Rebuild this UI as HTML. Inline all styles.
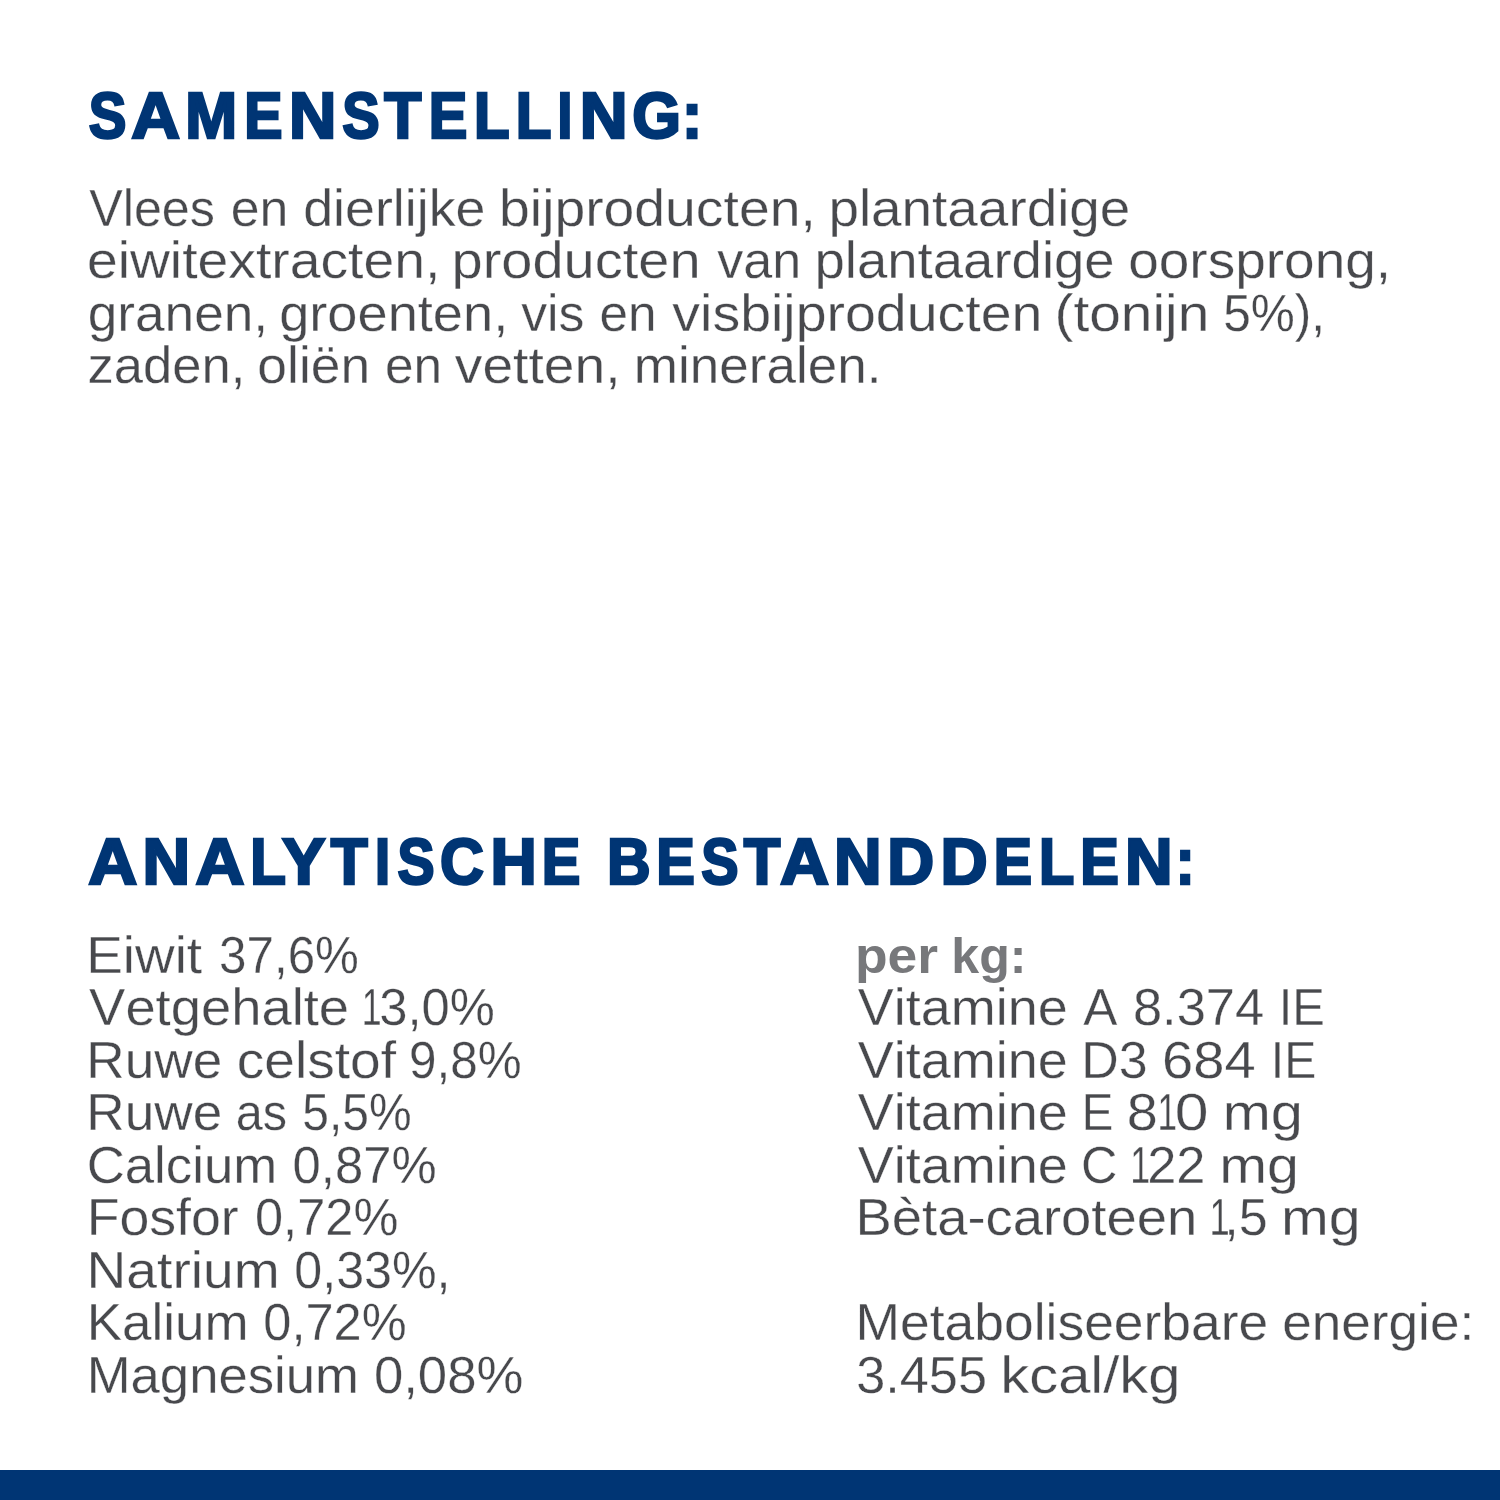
<!DOCTYPE html>
<html lang="nl"><head><meta charset="utf-8"><title>Samenstelling en analytische bestanddelen</title>
<style>
html,body{margin:0;padding:0;background:#fff;}
body{width:1500px;height:1500px;overflow:hidden;position:relative;}
svg{position:absolute;left:0;top:0;display:block;}
text{font-family:"Liberation Sans",sans-serif;white-space:pre;font-kerning:none;}
.h{font-size:64.1px;font-weight:bold;fill:#003574;stroke:#003574;stroke-width:2.6px;}
.t{font-size:51.5px;fill:#48494d;stroke:#fff;stroke-width:0.3px;}
.b{font-size:50.5px;font-weight:bold;fill:#77787b;}
.bar{position:absolute;left:0;top:1470px;width:1500px;height:30px;background:#003574;}
</style></head><body>
<svg width="1500" height="1500" viewBox="0 0 1500 1500">
<text class="h" y="138.00" aria-label="SAMENSTELLING:"><tspan x="88.86" textLength="37.68" lengthAdjust="spacingAndGlyphs">S</tspan><tspan x="131.21" textLength="48.80" lengthAdjust="spacingAndGlyphs">A</tspan><tspan x="185.27" textLength="51.89" lengthAdjust="spacingAndGlyphs">M</tspan><tspan x="244.18" textLength="38.27" lengthAdjust="spacingAndGlyphs">E</tspan><tspan x="288.93" textLength="47.36" lengthAdjust="spacingAndGlyphs">N</tspan><tspan x="342.26" textLength="37.38" lengthAdjust="spacingAndGlyphs">S</tspan><tspan x="384.33" textLength="37.12" lengthAdjust="spacingAndGlyphs">T</tspan><tspan x="428.66" textLength="38.60" lengthAdjust="spacingAndGlyphs">E</tspan><tspan x="473.94" textLength="35.57" lengthAdjust="spacingAndGlyphs">L</tspan><tspan x="515.73" textLength="35.68" lengthAdjust="spacingAndGlyphs">L</tspan><tspan x="557.45" textLength="14.82" lengthAdjust="spacingAndGlyphs">I</tspan><tspan x="579.70" textLength="47.82" lengthAdjust="spacingAndGlyphs">N</tspan><tspan x="632.31" textLength="48.72" lengthAdjust="spacingAndGlyphs">G</tspan><tspan x="682.06" textLength="20.13" lengthAdjust="spacingAndGlyphs">:</tspan></text>
<text class="t" y="225.80"><tspan x="89.15" textLength="125.87" lengthAdjust="spacingAndGlyphs">Vlees</tspan> <tspan x="230.73" textLength="57.63" lengthAdjust="spacingAndGlyphs">en</tspan> <tspan x="303.16" textLength="182.37" lengthAdjust="spacingAndGlyphs">dierlijke</tspan> <tspan x="499.08" textLength="316.71" lengthAdjust="spacingAndGlyphs">bijproducten,</tspan> <tspan x="828.41" textLength="301.97" lengthAdjust="spacingAndGlyphs">plantaardige</tspan></text>
<text class="t" y="278.20"><tspan x="86.91" textLength="353.38" lengthAdjust="spacingAndGlyphs">eiwitextracten,</tspan> <tspan x="451.54" textLength="249.07" lengthAdjust="spacingAndGlyphs">producten</tspan> <tspan x="717.15" textLength="84.03" lengthAdjust="spacingAndGlyphs">van</tspan> <tspan x="814.53" textLength="300.14" lengthAdjust="spacingAndGlyphs">plantaardige</tspan> <tspan x="1128.22" textLength="262.85" lengthAdjust="spacingAndGlyphs">oorsprong,</tspan></text>
<text class="t" y="330.60"><tspan x="87.68" textLength="180.45" lengthAdjust="spacingAndGlyphs">granen,</tspan> <tspan x="279.15" textLength="229.06" lengthAdjust="spacingAndGlyphs">groenten,</tspan> <tspan x="521.15" textLength="63.32" lengthAdjust="spacingAndGlyphs">vis</tspan> <tspan x="599.55" textLength="57.08" lengthAdjust="spacingAndGlyphs">en</tspan> <tspan x="672.34" textLength="370.14" lengthAdjust="spacingAndGlyphs">visbijproducten</tspan> <tspan x="1054.47" textLength="154.79" lengthAdjust="spacingAndGlyphs">(tonijn</tspan> <tspan x="1223.31" textLength="101.84" lengthAdjust="spacingAndGlyphs">5%),</tspan></text>
<text class="t" y="383.00"><tspan x="87.50" textLength="157.88" lengthAdjust="spacingAndGlyphs">zaden,</tspan> <tspan x="257.38" textLength="112.78" lengthAdjust="spacingAndGlyphs">oliën</tspan> <tspan x="384.95" textLength="57.08" lengthAdjust="spacingAndGlyphs">en</tspan> <tspan x="454.84" textLength="165.64" lengthAdjust="spacingAndGlyphs">vetten,</tspan> <tspan x="633.83" textLength="247.61" lengthAdjust="spacingAndGlyphs">mineralen.</tspan></text>
<text class="h" y="884.30" aria-label="ANALYTISCHE BESTANDDELEN:"><tspan x="88.22" textLength="49.00" lengthAdjust="spacingAndGlyphs">A</tspan><tspan x="142.42" textLength="47.59" lengthAdjust="spacingAndGlyphs">N</tspan><tspan x="195.62" textLength="49.00" lengthAdjust="spacingAndGlyphs">A</tspan><tspan x="250.33" textLength="35.68" lengthAdjust="spacingAndGlyphs">L</tspan><tspan x="282.00" textLength="43.47" lengthAdjust="spacingAndGlyphs">Y</tspan><tspan x="330.83" textLength="36.94" lengthAdjust="spacingAndGlyphs">T</tspan><tspan x="375.10" textLength="15.10" lengthAdjust="spacingAndGlyphs">I</tspan><tspan x="397.56" textLength="37.08" lengthAdjust="spacingAndGlyphs">S</tspan><tspan x="440.03" textLength="43.89" lengthAdjust="spacingAndGlyphs">C</tspan><tspan x="490.50" textLength="46.22" lengthAdjust="spacingAndGlyphs">H</tspan><tspan x="541.76" textLength="38.60" lengthAdjust="spacingAndGlyphs">E</tspan> <tspan x="606.95" textLength="43.62" lengthAdjust="spacingAndGlyphs">B</tspan><tspan x="656.16" textLength="38.60" lengthAdjust="spacingAndGlyphs">E</tspan><tspan x="701.16" textLength="37.28" lengthAdjust="spacingAndGlyphs">S</tspan><tspan x="743.81" textLength="36.56" lengthAdjust="spacingAndGlyphs">T</tspan><tspan x="780.02" textLength="49.00" lengthAdjust="spacingAndGlyphs">A</tspan><tspan x="834.12" textLength="47.59" lengthAdjust="spacingAndGlyphs">N</tspan><tspan x="887.26" textLength="46.87" lengthAdjust="spacingAndGlyphs">D</tspan><tspan x="940.55" textLength="47.09" lengthAdjust="spacingAndGlyphs">D</tspan><tspan x="993.78" textLength="38.27" lengthAdjust="spacingAndGlyphs">E</tspan><tspan x="1039.06" textLength="35.25" lengthAdjust="spacingAndGlyphs">L</tspan><tspan x="1080.26" textLength="38.60" lengthAdjust="spacingAndGlyphs">E</tspan><tspan x="1125.12" textLength="47.59" lengthAdjust="spacingAndGlyphs">N</tspan><tspan x="1175.76" textLength="18.78" lengthAdjust="spacingAndGlyphs">:</tspan></text>
<text class="t" y="973.00"><tspan x="86.25" textLength="115.82" lengthAdjust="spacingAndGlyphs">Eiwit</tspan> <tspan x="219.12" textLength="139.80" lengthAdjust="spacingAndGlyphs">37,6%</tspan></text>
<text class="t" y="1025.45"><tspan x="89.14" textLength="259.92" lengthAdjust="spacingAndGlyphs">Vetgehalte</tspan> <tspan x="361.66" textLength="19.89" lengthAdjust="spacingAndGlyphs">1</tspan><tspan x="379.27" textLength="115.59" lengthAdjust="spacingAndGlyphs">3,0%</tspan></text>
<text class="t" y="1077.90"><tspan x="86.39" textLength="135.92" lengthAdjust="spacingAndGlyphs">Ruwe</tspan> <tspan x="236.82" textLength="159.15" lengthAdjust="spacingAndGlyphs">celstof</tspan> <tspan x="409.04" textLength="112.57" lengthAdjust="spacingAndGlyphs">9,8%</tspan></text>
<text class="t" y="1130.35"><tspan x="86.39" textLength="135.92" lengthAdjust="spacingAndGlyphs">Ruwe</tspan> <tspan x="235.64" textLength="51.32" lengthAdjust="spacingAndGlyphs">as</tspan> <tspan x="302.36" textLength="109.31" lengthAdjust="spacingAndGlyphs">5,5%</tspan></text>
<text class="t" y="1182.80"><tspan x="86.67" textLength="190.51" lengthAdjust="spacingAndGlyphs">Calcium</tspan> <tspan x="292.56" textLength="144.10" lengthAdjust="spacingAndGlyphs">0,87%</tspan></text>
<text class="t" y="1235.25"><tspan x="86.65" textLength="152.07" lengthAdjust="spacingAndGlyphs">Fosfor</tspan> <tspan x="254.97" textLength="143.38" lengthAdjust="spacingAndGlyphs">0,72%</tspan></text>
<text class="t" y="1287.70"><tspan x="86.53" textLength="193.19" lengthAdjust="spacingAndGlyphs">Natrium</tspan> <tspan x="294.28" textLength="156.31" lengthAdjust="spacingAndGlyphs">0,33%,</tspan></text>
<text class="t" y="1340.15"><tspan x="86.71" textLength="161.89" lengthAdjust="spacingAndGlyphs">Kalium</tspan> <tspan x="263.27" textLength="143.38" lengthAdjust="spacingAndGlyphs">0,72%</tspan></text>
<text class="t" y="1392.60"><tspan x="86.73" textLength="272.15" lengthAdjust="spacingAndGlyphs">Magnesium</tspan> <tspan x="373.90" textLength="149.53" lengthAdjust="spacingAndGlyphs">0,08%</tspan></text>
<text class="b" y="972.70"><tspan x="854.96" textLength="83.09" lengthAdjust="spacingAndGlyphs">per</tspan> <tspan x="951.27" textLength="75.19" lengthAdjust="spacingAndGlyphs">kg:</tspan></text>
<text class="t" y="1025.45"><tspan x="857.84" textLength="210.00" lengthAdjust="spacingAndGlyphs">Vitamine</tspan> <tspan x="1083.15" textLength="34.15" lengthAdjust="spacingAndGlyphs">A</tspan> <tspan x="1132.91" textLength="131.25" lengthAdjust="spacingAndGlyphs">8.374</tspan> <tspan x="1278.74" textLength="46.15" lengthAdjust="spacingAndGlyphs">IE</tspan></text>
<text class="t" y="1077.90"><tspan x="857.84" textLength="210.00" lengthAdjust="spacingAndGlyphs">Vitamine</tspan> <tspan x="1081.29" textLength="66.36" lengthAdjust="spacingAndGlyphs">D3</tspan> <tspan x="1162.01" textLength="93.66" lengthAdjust="spacingAndGlyphs">684</tspan> <tspan x="1270.80" textLength="45.46" lengthAdjust="spacingAndGlyphs">IE</tspan></text>
<text class="t" y="1130.35"><tspan x="857.84" textLength="210.00" lengthAdjust="spacingAndGlyphs">Vitamine</tspan> <tspan x="1081.77" textLength="31.56" lengthAdjust="spacingAndGlyphs">E</tspan> <tspan x="1126.89" textLength="31.03" lengthAdjust="spacingAndGlyphs">8</tspan><tspan x="1157.50" textLength="19.52" lengthAdjust="spacingAndGlyphs">1</tspan><tspan x="1174.73" textLength="33.76" lengthAdjust="spacingAndGlyphs">0</tspan> <tspan x="1222.72" textLength="80.19" lengthAdjust="spacingAndGlyphs">mg</tspan></text>
<text class="t" y="1182.80"><tspan x="857.84" textLength="210.00" lengthAdjust="spacingAndGlyphs">Vitamine</tspan> <tspan x="1080.99" textLength="36.40" lengthAdjust="spacingAndGlyphs">C</tspan> <tspan x="1130.16" textLength="19.89" lengthAdjust="spacingAndGlyphs">1</tspan><tspan x="1147.19" textLength="58.29" lengthAdjust="spacingAndGlyphs">22</tspan> <tspan x="1219.25" textLength="79.64" lengthAdjust="spacingAndGlyphs">mg</tspan></text>
<text class="t" y="1235.25"><tspan x="855.49" textLength="341.72" lengthAdjust="spacingAndGlyphs">Bèta-caroteen</tspan> <tspan x="1209.62" textLength="20.27" lengthAdjust="spacingAndGlyphs">1</tspan><tspan x="1224.29" textLength="43.37" lengthAdjust="spacingAndGlyphs">,5</tspan> <tspan x="1281.05" textLength="79.64" lengthAdjust="spacingAndGlyphs">mg</tspan></text>
<text class="t" y="1340.15"><tspan x="855.57" textLength="412.65" lengthAdjust="spacingAndGlyphs">Metaboliseerbare</tspan> <tspan x="1282.18" textLength="192.07" lengthAdjust="spacingAndGlyphs">energie:</tspan></text>
<text class="t" y="1392.60"><tspan x="856.21" textLength="130.75" lengthAdjust="spacingAndGlyphs">3.455</tspan> <tspan x="1000.31" textLength="180.10" lengthAdjust="spacingAndGlyphs">kcal/kg</tspan></text>
</svg>
<div class="bar"></div>
</body></html>
